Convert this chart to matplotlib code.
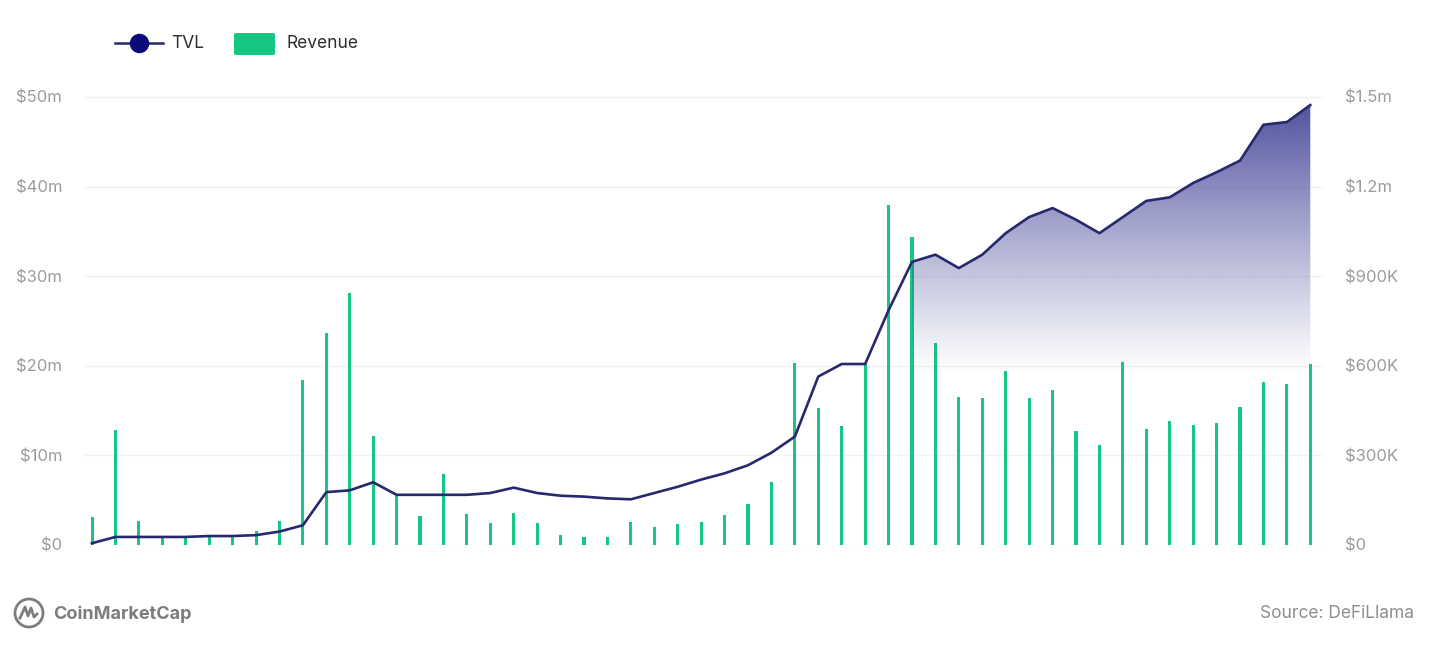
import numpy as np
import matplotlib
matplotlib.use("Agg")
import matplotlib.pyplot as plt
from matplotlib.lines import Line2D
from matplotlib.patches import FancyBboxPatch, Ellipse, Polygon
from matplotlib.ticker import FuncFormatter, FixedLocator

plt.rcParams['font.family'] = ['Inter', 'DejaVu Sans']

# Daily series, Aug 10 .. Oct 1
tvl_m = [0.2, 0.9, 0.9, 0.9, 0.9, 1.0, 1.0, 1.1, 1.5, 2.2,
         5.9, 6.1, 7.0, 5.6, 5.6, 5.6, 5.6, 5.8, 6.4, 5.8,
         5.5, 5.4, 5.2, 5.1, 5.8, 6.5, 7.3, 8.0, 8.9, 10.3,
         12.1, 18.8, 20.2, 20.2, 26.2, 31.6, 32.4, 30.9, 32.4, 34.8,
         36.6, 37.6, 36.3, 34.8, 36.6, 38.4, 38.8, 40.4, 41.6, 42.9,
         46.9, 47.2, 49.1]
revenue_k = [94, 385, 80, 30, 30, 33, 30, 47, 80, 552,
             710, 844, 365, 165, 97, 238, 104, 74, 107, 74,
             33, 27, 27, 77, 60, 70, 77, 100, 137, 211,
             609, 459, 398, 609, 1138, 1031, 676, 496, 492, 583,
             492, 519, 382, 335, 613, 388, 415, 402, 408, 462,
             546, 539, 606]
tick_days = [5, 12, 19, 22, 29, 36, 43, 51, 52]
tick_labels = ['15', '22', '29', 'Sep', '8', '15', '22', '29', 'Oct']
left_ticks_m = [0, 10, 20, 30, 40, 50]
right_ticks = [0, 300e3, 600e3, 900e3, 1.2e6, 1.5e6]
shade_from = 35  # start of the shaded TVL band (Sep 14)

days = np.arange(len(tvl_m))
tvl = np.array(tvl_m)
rev = np.array(revenue_k) * 1e3

GREEN = '#16c784'
NAVY = '#28286e'
GRAY = '#9c9c9c'

fig = plt.figure(figsize=(14.4, 6.55), dpi=100)
W, H = 1440, 655
ax_l, ax_r, ax_b, ax_t = 85, 1322, 545, 88
rect = [ax_l / W, 1 - ax_b / H, (ax_r - ax_l) / W, (ax_b - ax_t) / H]

ax_rev = fig.add_axes(rect)
ax = ax_rev.twinx()
ax.set_zorder(ax_rev.get_zorder() + 1)
ax.patch.set_visible(False)

ymax = 51.0
ax.set_ylim(0, ymax)
ax_rev.set_ylim(0, ymax / 50 * 1.5e6)
ax_rev.set_xlim(-0.3, 52.5)
ax.set_xlim(-0.3, 52.5)

# gridlines
for v in left_ticks_m:
    ax_rev.axhline(v / 50 * 1.5e6, color='#f1f1f1', lw=1.0, zorder=0)

# revenue bars (right-hand scale)
ax_rev.bar(days, rev, width=0.13, color=GREEN, zorder=2)

# gradient band under TVL
xs = days[shade_from:]
ys = tvl[shade_from:]
poly_pts = np.vstack([np.column_stack([xs, ys]),
                      [[xs[-1], 0], [xs[0], 0]]])
poly = Polygon(poly_pts, closed=True, facecolor='none', edgecolor='none',
               transform=ax.transData)
ax.add_patch(poly)
ny = 400
yy = np.linspace(0, ymax, ny)
alpha = np.clip((yy - 19.0) / (50.0 - 19.0), 0, 1) ** 1.1 * 0.92
img = np.zeros((ny, 2, 4))
img[:, :, 0] = 60 / 255
img[:, :, 1] = 62 / 255
img[:, :, 2] = 148 / 255
img[:, :, 3] = alpha[:, None]
im = ax.imshow(img, extent=[xs[0], xs[-1], 0, ymax], origin='lower',
               aspect='auto', interpolation='bilinear', zorder=1)
im.set_clip_path(poly)

# TVL line
ax.plot(days, tvl, color=NAVY, lw=1.9, zorder=3, solid_joinstyle='round')

# axes styling
for a in (ax, ax_rev):
    for s in a.spines.values():
        s.set_visible(False)
    a.tick_params(length=0, colors=GRAY, labelsize=12)

ax_rev.yaxis.tick_right()
ax.yaxis.tick_left()
ax.yaxis.set_label_position('left')
ax.set_yticks(left_ticks_m)
ax.yaxis.set_major_formatter(FuncFormatter(lambda v, p: '$0' if v == 0 else f'${v:.0f}m'))
ax.tick_params(axis='y', pad=16.5)


def fmt_right(v, p):
    if v == 0:
        return '$0'
    if v >= 1e6:
        return f'${v / 1e6:.1f}m'
    return f'${v / 1e3:.0f}K'


ax_rev.set_yticks(right_ticks)
ax_rev.yaxis.set_major_formatter(FuncFormatter(fmt_right))
ax_rev.tick_params(axis='y', pad=16.5)

ax.xaxis.set_major_locator(FixedLocator(tick_days))
ax.set_xticklabels(tick_labels)
ax.tick_params(axis='x', pad=21)
ax_rev.set_xticks([])


def fx(px):
    return px / W


def fy(py):
    return 1 - py / H


# legend
fig.add_artist(Line2D([fx(115), fx(163)], [fy(43), fy(43)], color=NAVY, lw=1.8))
fig.add_artist(Line2D([fx(139)], [fy(43)], marker='o', markersize=13,
                      markerfacecolor='#0b0b78', markeredgecolor='#0b0b78'))
fig.text(fx(171), fy(43), 'TVL', fontsize=12.5, color='#2e2e2e', va='center', ha='left')
fig.add_artist(FancyBboxPatch((fx(234), fy(55)), fx(41), 22 / H,
                              boxstyle='round,pad=0,rounding_size=0.002',
                              facecolor=GREEN, edgecolor='none'))
fig.text(fx(287), fy(43), 'Revenue', fontsize=12.5, color='#2e2e2e', va='center', ha='left')

# footer
LOGO = '#7d7d7d'
cx, cy, r = 29, 613, 14
fig.add_artist(Ellipse((fx(cx), fy(cy)), 2 * r / W, 2 * r / H,
                       facecolor='none', edgecolor=LOGO, lw=2.0))
wave_x = [cx - 9, cx - 4, cx - 1, cx + 2, cx + 5, cx + 8]
wave_y = [cy + 5, cy - 6, cy + 3, cy - 5, cy + 4, cy + 1]
fig.add_artist(Line2D([fx(v) for v in wave_x], [fy(v) for v in wave_y],
                      color=LOGO, lw=2.0, solid_joinstyle='round'))
fig.text(fx(53), fy(614), 'CoinMarketCap', fontsize=13, color=LOGO,
         fontweight='bold', va='center', ha='left')
fig.text(fx(1414), fy(614), 'Source: DeFiLlama', fontsize=12.5, color='#8e8e8e',
         va='center', ha='right')

fig.savefig('out.png', dpi=100, facecolor='white')
